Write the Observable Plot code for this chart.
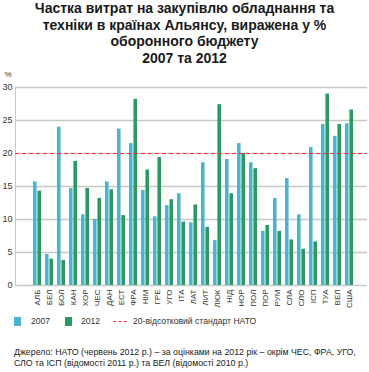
<!DOCTYPE html>
<html>
<head>
<meta charset="utf-8">
<script src="https://cdn.jsdelivr.net/npm/d3@7"></script>
<script src="https://cdn.jsdelivr.net/npm/@observablehq/plot@0.6"></script>
<style>
  html, body { margin: 0; padding: 0; background: #fff; }
  body { width: 369px; height: 372px; position: relative; overflow: hidden; font-family: "Liberation Sans", Arial, sans-serif; }
  #title { position: absolute; left: 0; top: 0; width: 369px; text-align: center; font-weight: bold; font-size: 14px; line-height: 16.5px; color: #1a1a1a; }
  #chart { position: absolute; left: 0; top: 66px; }
  .leg { position: absolute; font-size: 8.6px; color: #333; }
  .sw { position: absolute; width: 7px; height: 9px; }
  #caption { position: absolute; left: 14px; top: 347px; font-size: 8.8px; line-height: 10.5px; color: #222; white-space: nowrap; }
</style>
</head>
<body>
<div id="title">Частка витрат на закупівлю обладнання та<br>техніки в країнах Альянсу, виражена у %<br>оборонного бюджету<br>2007 та 2012</div>
<div id="chart"></div>
<div class="sw" style="left:14px; top:317px; background:#4cb4d3;"></div>
<div class="leg" style="left:31px; top:316px;">2007</div>
<div class="sw" style="left:65px; top:317px; background:#2a9a63;"></div>
<div class="leg" style="left:81px; top:316px;">2012</div>
<svg style="position:absolute; left:113px; top:320px;" width="16" height="3"><line x1="0" y1="1.5" x2="16" y2="1.5" stroke="#ff2a3a" stroke-width="1.2" stroke-dasharray="3,2.5"/></svg>
<div class="leg" style="left:133px; top:316px;">20-відсотковий стандарт НАТО</div>
<div id="caption">Джерело: НАТО (червень 2012 р.) – за оцінками на 2012 рік – окрім ЧЕС, ФРА, УГО,<br>СЛО та ІСП (відомості 2011 р.) та ВЕЛ (відомості 2010 р.)</div>
<script>
const countries = ["АЛБ","БЕЛ","БОЛ","КАН","ХОР","ЧЕС","ДАН","ЕСТ","ФРА","НІМ","ГРЕ","УГО","ІТА","ЛАТ","ЛИТ","ЛЮК","НІД","НОР","ПОЛ","ПОР","РУМ","СЛА","СЛО","ІСП","ТУА","ВЕЛ","США"];
const v2007 = [15.7,4.7,24.0,14.7,10.7,10.0,15.7,23.7,21.5,14.4,10.4,12.1,13.9,9.5,18.6,6.8,19.1,21.5,18.6,8.2,13.2,16.2,10.7,20.9,24.4,22.6,24.5];
const v2012 = [14.3,4.0,3.8,18.8,14.7,13.2,14.5,10.6,28.2,17.5,19.4,13.0,9.6,12.2,8.8,27.4,13.9,20.0,17.7,9.1,8.2,6.9,5.5,6.6,29.0,24.4,26.6];
const yTicks = [0,5,10,15,20,25,30];
const natoStandard = 20;

const d07 = countries.map((c, i) => ({country: c, value: v2007[i]}));
const d12 = countries.map((c, i) => ({country: c, value: v2012[i]}));

const step = 341 / 27;
const half = step * 0.7 / 2;

const chart = Plot.plot({
  width: 369,
  height: 248,
  marginTop: 21,
  marginBottom: 29,
  marginLeft: 15,
  marginRight: 2,
  style: {fontFamily: "'Liberation Sans', Arial, sans-serif", fontSize: "9px", color: "#333", background: "#fff"},
  x: {domain: countries, range: [23, 364], paddingInner: 0.3, paddingOuter: 0.15, label: null},
  y: {domain: [0, 30], label: null},
  marks: [
    Plot.ruleY(yTicks, {stroke: "#c8c8c8", strokeWidth: 1.3}),
    Plot.frame({anchor: "left", stroke: "#c8c8c8"}),
    Plot.barY(d07, {x: "country", y: "value", fill: "#4cb4d3", insetRight: half}),
    Plot.barY(d12, {x: "country", y: "value", fill: "#2a9a63", insetLeft: half}),
    Plot.ruleY([natoStandard], {stroke: "#ff2a3a", strokeWidth: 1.2, strokeDasharray: "4,3"}),
    Plot.axisY(yTicks, {tickSize: 0, tickPadding: 3, fontSize: 9, fill: "#333"}),
    Plot.axisX({tickSize: 0, tickPadding: 4, tickRotate: -90, fontSize: 8, fill: "#333"}),
    Plot.text(["%"], {frameAnchor: "top-left", dx: -11, dy: -16, fontSize: 8, fill: "#333", textAnchor: "start"})
  ]
});
document.getElementById("chart").appendChild(chart);
</script>
</body>
</html>
